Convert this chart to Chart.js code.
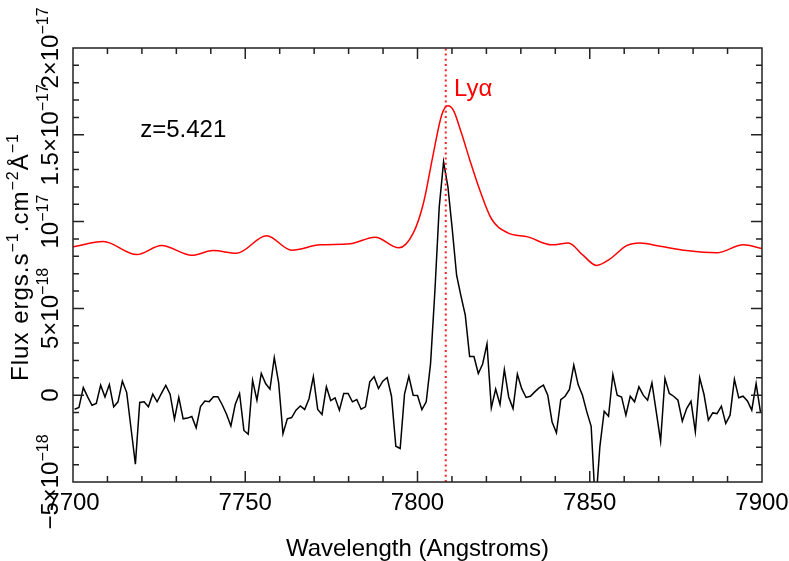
<!DOCTYPE html>
<html>
<head>
<meta charset="utf-8">
<script src="https://cdn.jsdelivr.net/npm/chart.js@4.4.0/dist/chart.umd.min.js"></script>
<style>
  html, body { margin: 0; padding: 0; background: #fff; }
  #wrap { width: 789px; height: 561px; }
</style>
</head>
<body>
<div id="wrap"><canvas id="spec" width="789" height="561"></canvas></div>
<script>
// wavelength grid of the extracted 1D spectrum (Angstroms)
const WAVE_START = 7700.47;
const WAVE_STEP = 1.26;

// observed flux, units of 1e-18 ergs/s/cm2/A
const FLUX = [
  -0.81, -0.71, 0.44, -0.10, -0.58, -0.48, 0.58, -0.10, 0.61, -0.67,
  -0.38, 0.81, 0.15, -1.92, -3.97, -0.42, -0.38, -0.67, 0.06, -0.38,
  0.10, 0.56, 0.06, -1.38, -0.12, -1.36, -1.32, -1.23, -1.88, -0.65,
  -0.34, -0.37, -0.09, -0.09, -0.55, -1.10, -1.77, -0.54, 0.10, -2.03,
  -2.25, 0.86, -0.29, 1.25, 0.67, 0.35, 2.17, 0.72, -2.22, -1.36,
  -1.29, -0.86, -0.62, -0.82, -0.20, 1.07, -0.82, -1.11, 0.48, -0.31,
  -0.15, -0.86, 0.10, 0.10, -0.38, -0.25, -0.81, -0.67, 0.77, 1.06,
  0.38, 0.81, 1.02, -0.06, -2.94, -3.07, 0.06, 1.09, 0.00, -0.02,
  -0.83, -0.38, 1.82, 6.00, 10.85, 13.44, 12.00, 9.56, 6.91, 5.72,
  4.61, 2.23, 2.23, 1.25, 1.80, 2.96, -0.73, 0.35, -0.54, 1.48,
  -0.10, -0.77, 1.21, 0.38, -0.13, -0.06, 0.19, 0.42, 0.58, 0.00,
  -1.54, -2.17, -0.25, -0.06, 0.33, 1.73, 0.61, 0.00, -0.96, -1.79,
  -6.50, -2.98, -0.92, -1.21, 1.19, 0.00, -0.10, -1.15, -0.06, -0.38,
  0.48, 0.00, -0.29, 0.71, -0.96, -2.65, 0.96, 0.10, -0.06, -0.29,
  -1.50, -0.77, -0.35, -2.11, 1.00, 0.04, -1.44, -1.02, -1.06, -0.63,
  -1.63, -1.15, 0.92, -0.15, -0.06, -0.33, -0.86, 0.67, -0.96
];

// smoothed (offset) version, same units
const SMOOTH_WAVE = [
  7700.0, 7708.8, 7718.5, 7725.7, 7734.5, 7740.7, 7747.5, 7756.2, 7763.5, 7771.7,
  7780.4, 7787.7, 7794.6, 7798.8, 7801.7, 7804.6, 7807.0, 7808.8, 7810.4, 7812.8,
  7815.2, 7818.1, 7821.5, 7826.2, 7832.0, 7839.0, 7843.8, 7848.1, 7852.0, 7855.9,
  7860.7, 7864.6, 7870.4, 7878.1, 7886.8, 7894.6, 7900.0
];
const SMOOTH_FLUX = [
  8.55, 8.85, 8.10, 8.62, 8.06, 8.33, 8.18, 9.18, 8.35, 8.66,
  8.72, 9.10, 8.49, 9.35, 11.04, 13.92, 16.13, 16.67, 16.42, 15.07,
  13.54, 11.81, 10.15, 9.35, 9.12, 8.66, 8.77, 8.05, 7.47, 7.85,
  8.62, 8.77, 8.58, 8.33, 8.20, 8.66, 8.45
];

const LYA_WAVE = 7808.2;
const Z_TEXT = 'z=5.421';
const Z_TEXT_AT = [7719.5, 14.85];
const LYA_TEXT = 'Lyα';
const LYA_TEXT_AT = [7810.6, 17.25];

const X_MIN = 7700, X_MAX = 7900, X_MAJOR = 50, X_MINOR = 10;
const Y_MIN = -5, Y_MAX = 20, Y_MAJOR = 5, Y_MINOR = 1;
const X_TICKS = [7700, 7750, 7800, 7850, 7900];
const Y_TICKS = [-5, 0, 5, 10, 15, 20];
const Y_TICK_LABELS = [
  ['\u22125\u00d710', '\u221218'], ['0', ''], ['5\u00d710', '\u221218'],
  ['10', '\u221217'], ['1.5\u00d710', '\u221217'], ['2\u00d710', '\u221217']
];
const X_TITLE = 'Wavelength (Angstroms)';
const Y_TITLE = [['Flux ergs.s', ''], ['', '\u22121'], ['.cm', ''], ['', '\u22122'], ['\u00c5', ''], ['', '\u22121']];

const FONT = '"Liberation Sans", Arial, sans-serif';
const MAIN_PX = 24, SUP_PX = 16, SUP_RISE = 10;

// draw text made of [normal, superscript] pairs, centred on (0,0) of the current transform
function richWidth(ctx, parts) {
  let w = 0;
  parts.forEach(([t, s]) => {
    ctx.font = MAIN_PX + 'px ' + FONT; w += ctx.measureText(t).width;
    ctx.font = SUP_PX + 'px ' + FONT; w += ctx.measureText(s).width;
  });
  return w;
}
function drawRich(ctx, parts) {
  let cx = -richWidth(ctx, parts) / 2;
  ctx.textAlign = 'left';
  ctx.textBaseline = 'alphabetic';
  parts.forEach(([t, s]) => {
    ctx.font = MAIN_PX + 'px ' + FONT;
    ctx.fillText(t, cx, 0); cx += ctx.measureText(t).width;
    ctx.font = SUP_PX + 'px ' + FONT;
    ctx.fillText(s, cx, -SUP_RISE); cx += ctx.measureText(s).width;
  });
}

const framePlugin = {
  id: 'pgFrame',
  afterDraw(chart) {
    const { ctx, chartArea: a, scales: { x, y } } = chart;
    ctx.save();

    // box
    ctx.strokeStyle = '#222';
    ctx.lineWidth = 1.5;
    ctx.strokeRect(a.left, a.top, a.right - a.left, a.bottom - a.top);

    // inward ticks on all four sides
    ctx.beginPath();
    for (let i = 1; i < (X_MAX - X_MIN) / X_MINOR; i++) {
      const v = X_MIN + i * X_MINOR;
      const len = (v % X_MAJOR === 0) ? 11 : 6;
      const px = x.getPixelForValue(v);
      ctx.moveTo(px, a.bottom); ctx.lineTo(px, a.bottom - len);
      ctx.moveTo(px, a.top); ctx.lineTo(px, a.top + len);
    }
    for (let i = 1; i < (Y_MAX - Y_MIN) / Y_MINOR; i++) {
      const v = Y_MIN + i * Y_MINOR;
      const len = (v % Y_MAJOR === 0) ? 11 : 6;
      const py = y.getPixelForValue(v);
      ctx.moveTo(a.left, py); ctx.lineTo(a.left + len, py);
      ctx.moveTo(a.right, py); ctx.lineTo(a.right - len, py);
    }
    ctx.stroke();

    ctx.fillStyle = '#000';
    // x tick labels
    ctx.font = MAIN_PX + 'px ' + FONT;
    ctx.textAlign = 'center';
    ctx.textBaseline = 'alphabetic';
    X_TICKS.forEach(v => ctx.fillText(String(v), x.getPixelForValue(v), a.bottom + 28));

    // x title
    ctx.fillText(X_TITLE, (a.left + a.right) / 2, a.bottom + 74);

    // y tick labels, rotated
    Y_TICKS.forEach((v, i) => {
      ctx.save();
      ctx.translate(a.left - 15, y.getPixelForValue(v));
      ctx.rotate(-Math.PI / 2);
      drawRich(ctx, [Y_TICK_LABELS[i]]);
      ctx.restore();
    });

    // y title, a little wider spaced like the original plot font
    ctx.save();
    ctx.letterSpacing = '1px';
    ctx.translate(a.left - 45, (a.top + a.bottom) / 2 - 8);
    ctx.rotate(-Math.PI / 2);
    drawRich(ctx, Y_TITLE);
    ctx.restore();

    // annotations
    ctx.font = MAIN_PX + 'px ' + FONT;
    ctx.textAlign = 'left';
    ctx.fillStyle = '#000';
    ctx.fillText(Z_TEXT, x.getPixelForValue(Z_TEXT_AT[0]), y.getPixelForValue(Z_TEXT_AT[1]));
    ctx.fillStyle = '#ff0000';
    ctx.fillText(LYA_TEXT, x.getPixelForValue(LYA_TEXT_AT[0]), y.getPixelForValue(LYA_TEXT_AT[1]));

    ctx.restore();
  }
};

const observed = FLUX.map((f, i) => ({ x: WAVE_START + i * WAVE_STEP, y: f }));
const smoothed = SMOOTH_WAVE.map((w, i) => ({ x: w, y: SMOOTH_FLUX[i] }));

new Chart(document.getElementById('spec'), {
  type: 'line',
  data: {
    datasets: [
      {
        label: 'Lya',
        data: [{ x: LYA_WAVE, y: Y_MIN }, { x: LYA_WAVE, y: Y_MAX }],
        borderColor: '#ff2020',
        borderWidth: 2,
        borderDash: [2, 3.2],
        pointRadius: 0
      },
      {
        label: 'smoothed',
        data: smoothed,
        borderColor: '#ff0000',
        borderWidth: 1.5,
        cubicInterpolationMode: 'monotone',
        pointRadius: 0
      },
      {
        label: 'spectrum',
        data: observed,
        borderColor: '#000',
        borderWidth: 1.5,
        tension: 0,
        pointRadius: 0
      }
    ]
  },
  options: {
    responsive: false,
    animation: false,
    layout: { padding: { left: 73, top: 48, right: 27, bottom: 79 } },
    plugins: { legend: { display: false }, tooltip: { enabled: false } },
    scales: {
      x: { type: 'linear', min: X_MIN, max: X_MAX, display: false },
      y: { type: 'linear', min: Y_MIN, max: Y_MAX, display: false }
    }
  },
  plugins: [framePlugin]
});
</script>
</body>
</html>
